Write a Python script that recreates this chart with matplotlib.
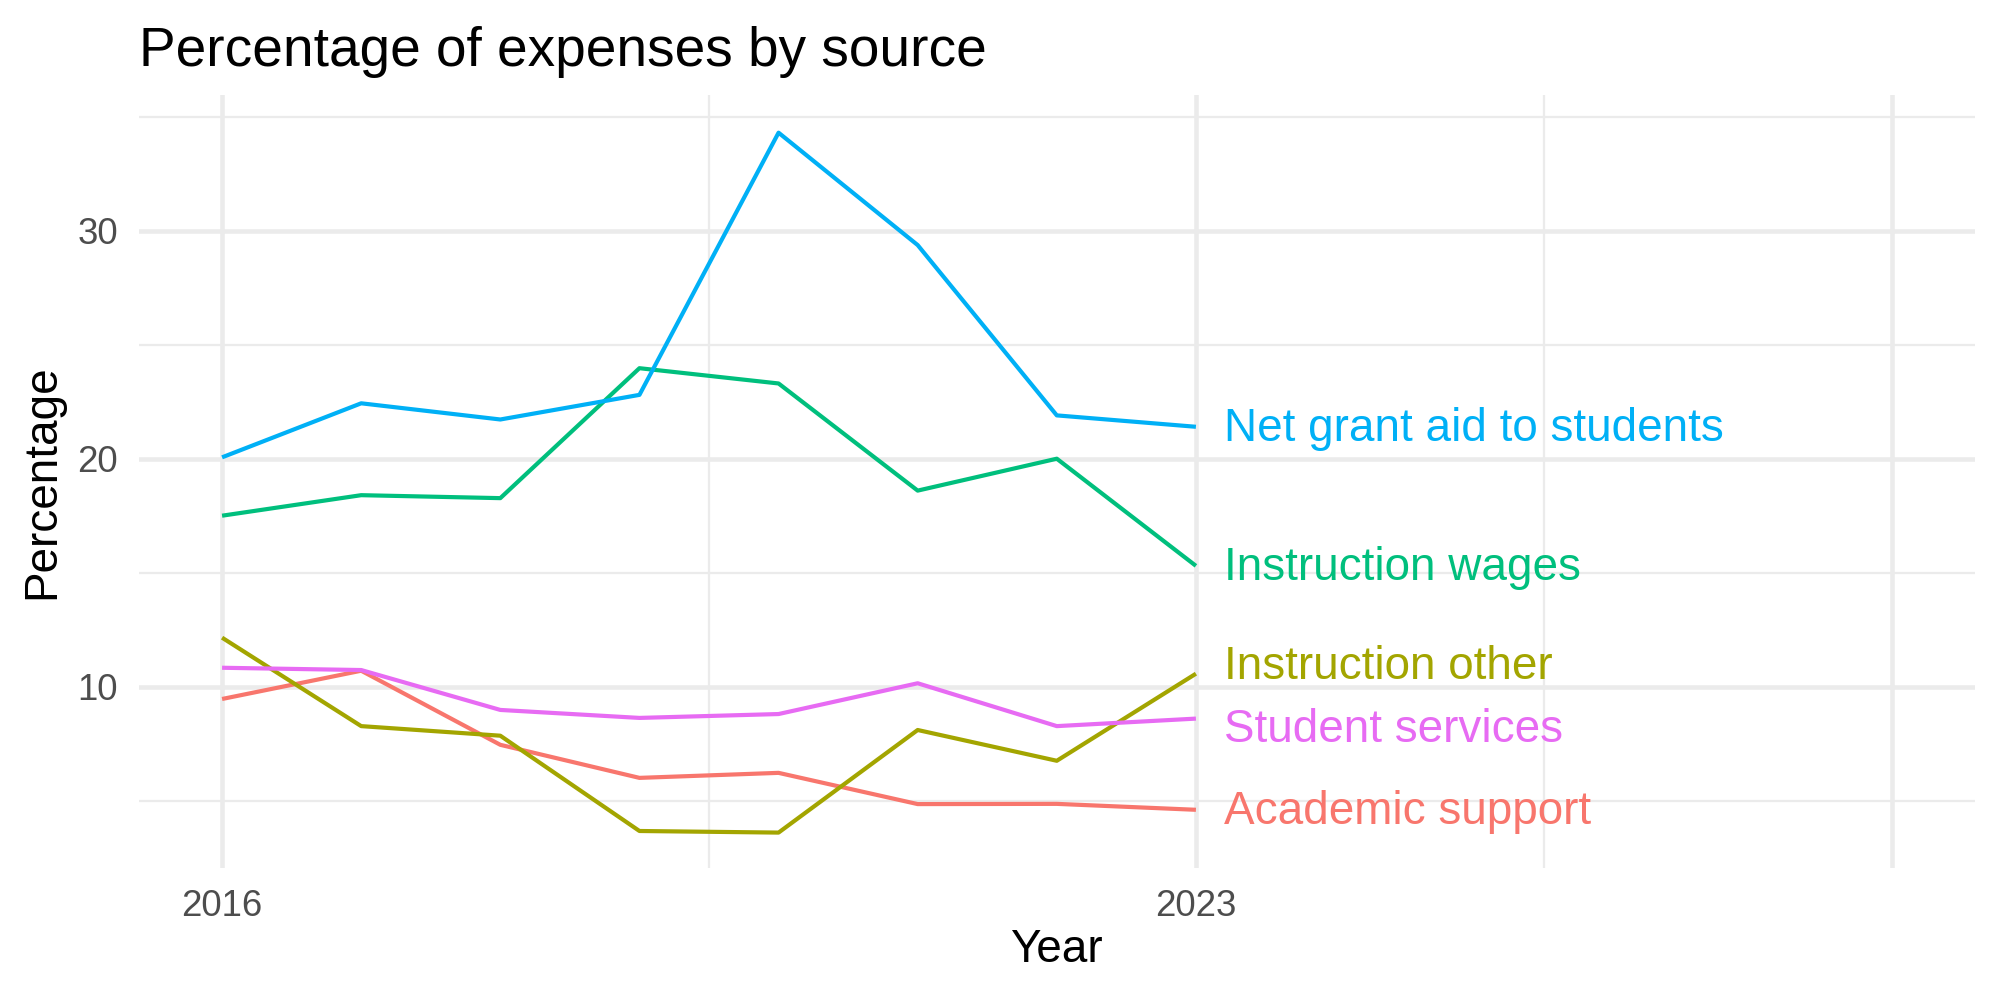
import matplotlib
matplotlib.use("Agg")
import matplotlib.pyplot as plt
from matplotlib.ticker import FixedLocator

plt.rcParams['font.family'] = ['Liberation Sans', 'DejaVu Sans']

# data
years = [2016, 2017, 2018, 2019, 2020, 2021, 2022, 2023]
academic_support = [9.46, 10.7, 7.45, 6.0, 6.22, 4.85, 4.86, 4.6]
instruction_other = [12.15, 8.27, 7.85, 3.67, 3.6, 8.1, 6.75, 10.57]
instruction_wages = [17.5, 18.4, 18.27, 23.97, 23.3, 18.6, 20.0, 15.3]
net_grant_aid = [20.06, 22.43, 21.72, 22.8, 34.3, 29.37, 21.9, 21.4]
student_services = [10.83, 10.73, 8.98, 8.63, 8.8, 10.15, 8.27, 8.6]

series_names = ["Academic support", "Instruction other", "Instruction wages",
                "Net grant aid to students", "Student services"]
series_values = [academic_support, instruction_other, instruction_wages,
                 net_grant_aid, student_services]
colors = ["#F8766D", "#A3A500", "#00BF7D", "#00B0F6", "#E76BF3"]

fig = plt.figure(figsize=(20 / 3, 10 / 3), dpi=300)
ax = fig.add_axes([0.0693, 0.1323, 0.9182, 0.7724])

for name, vals, col in zip(series_names, series_values, colors):
    ax.plot(years, vals, color=col, lw=1.0, solid_capstyle='butt', zorder=3)

# end labels, nudged apart a bit where they would overlap (like ggrepel)
ends = [v[-1] for v in series_values]
order = sorted(range(len(ends)), key=lambda i: ends[i])
label_y = list(ends)
min_gap = 2.75
for _ in range(50):
    moved = False
    for a, b in zip(order[:-1], order[1:]):
        gap = label_y[b] - label_y[a]
        if gap < min_gap:
            push = (min_gap - gap) / 2
            label_y[a] -= push
            label_y[b] += push
            moved = True
    if not moved:
        break
for name, ly, col in zip(series_names, label_y, colors):
    ax.text(years[-1] + 0.2, ly - 0.1, name, color=col, fontsize=11,
            ha='left', va='center', zorder=4)

ax.set_xlim(2015.4, 2028.6)
ax.set_ylim(2.06, 35.94)

ax.xaxis.set_major_locator(FixedLocator([2016, 2023, 2028]))
ax.set_xticklabels(["2016", "2023", ""])
ax.xaxis.set_minor_locator(FixedLocator([2019.5, 2025.5]))
ax.yaxis.set_major_locator(FixedLocator([10, 20, 30]))
ax.yaxis.set_minor_locator(FixedLocator([5, 15, 25, 35]))

ax.grid(which='major', color='#EBEBEB', lw=1.1)
ax.grid(which='minor', color='#EBEBEB', lw=0.55)
ax.set_axisbelow(True)
for s in ax.spines.values():
    s.set_visible(False)
ax.tick_params(which='both', length=0, labelsize=8.8, labelcolor='#4D4D4D')
ax.tick_params(axis='x', pad=5)
ax.tick_params(axis='y', pad=5)

ax.set_xlabel("Year", fontsize=11, labelpad=1)
ax.set_ylabel("Percentage", fontsize=11, labelpad=3)
ax.set_title("Percentage of expenses by source", fontsize=13.2, loc='left',
             pad=7)

fig.savefig("out.png", dpi=300, facecolor='white')
